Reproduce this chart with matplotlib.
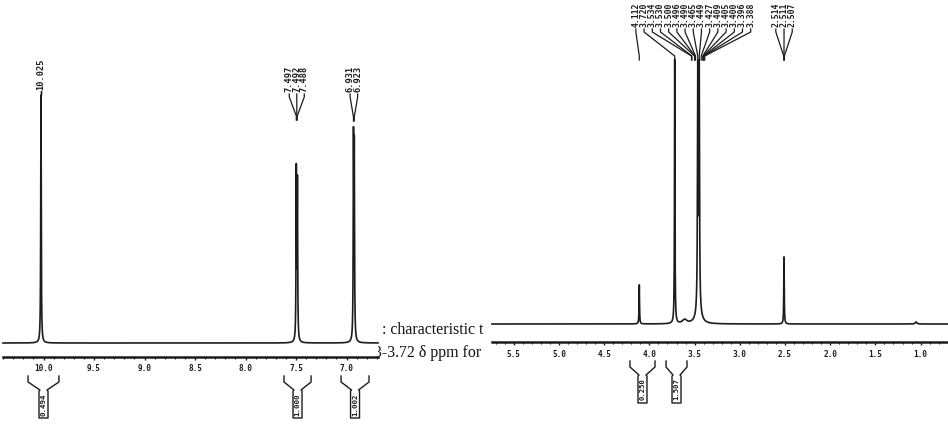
import numpy as np
import matplotlib
matplotlib.use("Agg")
import matplotlib.pyplot as plt
from matplotlib.ticker import MultipleLocator, FormatStrFormatter
from matplotlib.transforms import blended_transform_factory as btf

W, H, DPI = 948, 428, 100
INK = "#1c1c1c"

# ---------------- data: left spectrum (10.4 - 6.7 ppm) ----------------
left_peak_ppm    = [10.025, 7.497, 7.486, 6.931, 6.923]
left_peak_height = [100.0, 68.0, 63.0, 78.0, 74.0]
left_peak_hwhm   = [0.003, 0.003, 0.003, 0.003, 0.003]
left_label_groups = [["10.025"], ["7.497", "7.492", "7.488"], ["6.931", "6.923"]]
left_integral_ranges = [(10.153, 9.847), (7.619, 7.351), (7.054, 6.777)]
left_integral_values = ["0.494", "1.000", "1.002"]

# ---------------- data: right spectrum (5.7 - 0.7 ppm) ----------------
right_peak_ppm    = [4.112, 3.720, 3.610, 3.465, 3.449, 3.455, 2.511, 1.050]
right_peak_height = [14.8, 100.0, 1.5, 90.0, 90.0, 5.0, 25.4, 0.8]
right_peak_hwhm   = [0.003, 0.003, 0.03, 0.004, 0.004, 0.03, 0.003, 0.01]
right_label_groups = [["4.112", "3.720", "3.534", "3.530", "3.500", "3.496", "3.490", "3.465",
                       "3.449", "3.427", "3.409", "3.405", "3.400", "3.396", "3.388"],
                      ["2.514", "2.511", "2.507"]]
right_integral_ranges = [(4.215, 3.938), (3.816, 3.584)]
right_integral_values = ["0.250", "1.507"]

# overlapping document text fragments
doc_text_lines = [": characteristic t", "3-3.72 \u03b4 ppm for"]


def spectrum(x, pos, hgt, wid):
    y = np.zeros_like(x)
    for p, h, w in zip(pos, hgt, wid):
        y += h / (1.0 + ((x - p) / w) ** 2)
    return y


fig = plt.figure(figsize=(W / DPI, H / DPI), dpi=DPI)
fig.patch.set_facecolor("white")


def make_axes(x0, x1, bottom, ppm_left, ppm_right, ylo, yhi):
    ax = fig.add_axes([x0 / W, 1 - bottom / H, (x1 - x0) / W, bottom / H])
    ax.set_facecolor("white")
    ax.set_xlim(ppm_left, ppm_right)
    ax.set_ylim(ylo, yhi)
    for s in ("top", "left", "right"):
        ax.spines[s].set_visible(False)
    ax.spines["bottom"].set_linewidth(1.8)
    ax.spines["bottom"].set_color(INK)
    ax.yaxis.set_visible(False)
    ax.xaxis.set_major_locator(MultipleLocator(0.5))
    ax.xaxis.set_minor_locator(MultipleLocator(0.1))
    ax.xaxis.set_major_formatter(FormatStrFormatter("%.1f"))
    ax.tick_params(axis="x", which="major", direction="out", length=2.2, width=1.0,
                   color=INK, labelsize=5.6, labelcolor=INK)
    ax.tick_params(axis="x", which="minor", direction="out", length=1.4, width=0.8, color=INK)
    for t in ax.get_xticklabels():
        t.set_fontfamily("DejaVu Sans Mono")
        t.set_fontweight("bold")
    return ax


def fy(py, bottom):
    # pixel row (from top) -> axes fraction, axes top at figure top
    return (bottom - py) / bottom


def draw_labels(ax, groups, bottom, px_per_ppm, spacing_px, fsize, geom):
    tr = btf(ax.transData, ax.transAxes)
    for g, (t_bot, l_top, l_bot) in zip(groups, geom):
        vals = [float(s) for s in g]
        c = np.mean(vals)
        n = len(g)
        for i, (s, v) in enumerate(zip(g, vals)):
            xl = c - (i - (n - 1) / 2) * spacing_px / px_per_ppm
            ax.text(xl, fy(t_bot, bottom), s, rotation=90, ha="center", va="bottom",
                    transform=tr, fontsize=fsize, fontfamily="DejaVu Sans Mono",
                    fontweight="bold", color=INK, clip_on=False)
            xs = [xl, xl, v, v]
            ys = [fy(l_top, bottom), fy(l_top + 3, bottom), fy(l_bot - 4, bottom), fy(l_bot, bottom)]
            ax.plot(xs, ys, transform=tr, color=INK, lw=0.9, clip_on=False)


def draw_integrals(ax, ranges, values, bottom, px_per_ppm, ytop, fsize):
    tr = btf(ax.transData, ax.transAxes)
    for (a, b), s in zip(ranges, values):
        c = (a + b) / 2
        nk = 3.5 / px_per_ppm
        bx = 4.5 / px_per_ppm
        xs = [a, a, c + nk, c + bx, c + bx, c - bx, c - bx, c - nk, b, b]
        yp = [ytop, ytop + 6, ytop + 14, ytop + 15, ytop + 42, ytop + 42, ytop + 15, ytop + 14, ytop + 6, ytop]
        ax.plot(xs, [fy(p, bottom) for p in yp], transform=tr, color=INK, lw=1.0, clip_on=False)
        ax.text(c, fy(ytop + 28.5, bottom), s, rotation=90, ha="center", va="center",
                transform=tr, fontsize=fsize, fontfamily="DejaVu Sans Mono",
                fontweight="bold", color=INK, clip_on=False)


# ---------------- left panel ----------------
L_PPU = 101.0           # px per ppm
L_ANCHOR = 43.5         # px of 10.0 ppm
L_X0, L_X1, L_BOT = 3, 378, 357
l_left = 10.0 + (L_ANCHOR - L_X0) / L_PPU
l_right = 10.0 - (L_X1 - L_ANCHOR) / L_PPU
l_scale = 2.48          # px per intensity unit
axL = make_axes(L_X0, L_X1, L_BOT, l_left, l_right, -14 / l_scale, (L_BOT - 14) / l_scale)
axL.tick_params(axis="x", which="major", pad=2.8)
xl = np.linspace(l_left, l_right, 40000)
axL.plot(xl, spectrum(xl, left_peak_ppm, left_peak_height, left_peak_hwhm),
         color=INK, lw=1.2, clip_on=False)
draw_labels(axL, left_label_groups, L_BOT, L_PPU, 7.5, 6.2,
            [(90, 91, 95), (92, 94, 120), (92, 94, 121)])
draw_integrals(axL, left_integral_ranges, left_integral_values, L_BOT, L_PPU, 376, 5.4)

# ---------------- right panel ----------------
R_PPU = 90.4
R_ANCHOR = 785.0        # px of 2.5 ppm
R_X0, R_X1, R_BOT = 487, 948, 342
r_left = 2.5 + (R_ANCHOR - R_X0) / R_PPU
r_right = 2.5 - (R_X1 - R_ANCHOR) / R_PPU
r_start = 2.5 + (R_ANCHOR - 492) / R_PPU
r_scale = 2.64
axR = make_axes(R_X0, R_X1, R_BOT, r_left, r_right, -18 / r_scale, (R_BOT - 18) / r_scale)
axR.spines["bottom"].set_bounds(r_start, r_right)
axR.tick_params(axis="x", which="major", pad=3.4)
xr = np.linspace(r_start, r_right, 40000)
axR.plot(xr, spectrum(xr, right_peak_ppm, right_peak_height, right_peak_hwhm),
         color=INK, lw=1.2, clip_on=False)
draw_labels(axR, right_label_groups, R_BOT, R_PPU, 8.2, 5.9,
            [(27, 29, 60), (27, 29, 60)])
draw_integrals(axR, right_integral_ranges, right_integral_values, R_BOT, R_PPU, 361, 5.2)

# ---------------- overlapping document text (partly hidden by the panels) ----------------
fig.text(382 / W, 1 - 330 / H, doc_text_lines[0], fontsize=11.4, family="Liberation Serif",
         va="center", ha="left", color="#111111", zorder=-1)
fig.text(374 / W, 1 - 353 / H, doc_text_lines[1], fontsize=11.4, family="Liberation Serif",
         va="center", ha="left", color="#111111", zorder=-1)

fig.savefig("out.png", dpi=DPI, facecolor="white")
